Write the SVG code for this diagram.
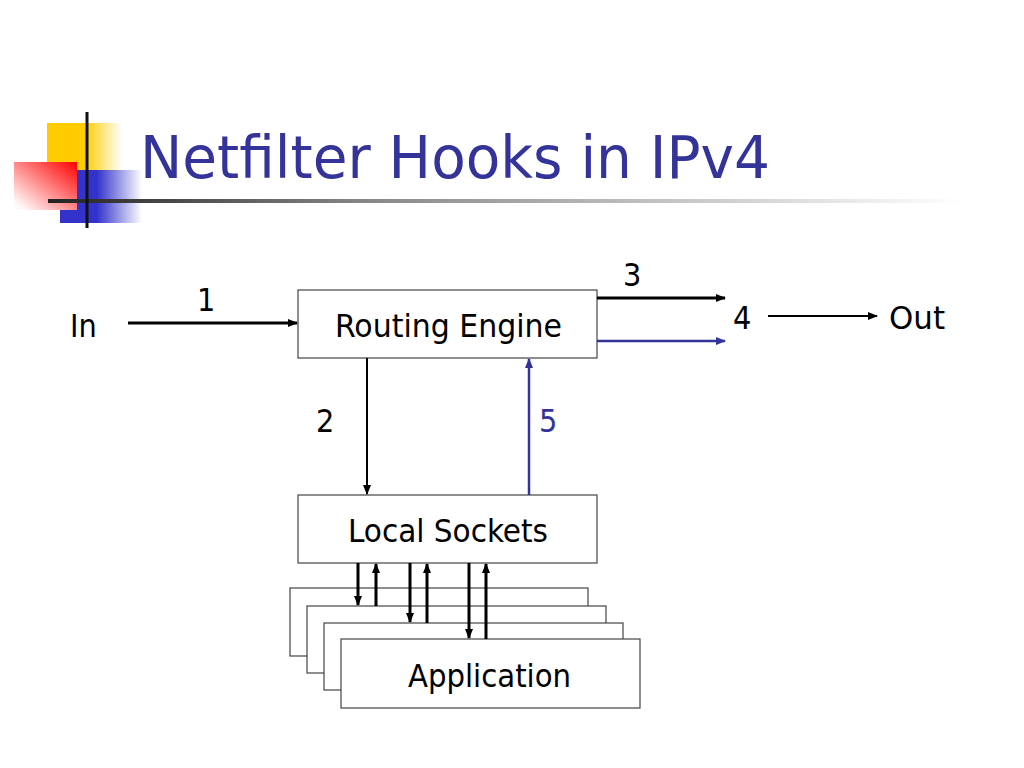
<svg xmlns="http://www.w3.org/2000/svg" width="1024" height="768" viewBox="0 0 1024 768">
  <style>
    .t { font-family: 'DejaVu Sans Condensed', 'DejaVu Sans', sans-serif; font-size: 32px; fill: #000; }
    .blue { fill: #333399; }
    .box { fill: #fff; stroke: #444; stroke-width: 1.2; }
    .k { stroke: #000; stroke-width: 2; fill: none; }
    .kb { stroke: #000; stroke-width: 3; fill: none; }
    .b { stroke: #333399; stroke-width: 2.5; fill: none; }
  </style>
  <defs>
    <linearGradient id="gY" x1="0" y1="0" x2="1" y2="0">
      <stop offset="0" stop-color="#FFCC00"/>
      <stop offset="0.5" stop-color="#FFCC00"/>
      <stop offset="1" stop-color="#FFCC00" stop-opacity="0"/>
    </linearGradient>
    <linearGradient id="gB" x1="0" y1="0" x2="1" y2="0">
      <stop offset="0" stop-color="#3333CC"/>
      <stop offset="0.45" stop-color="#3333CC"/>
      <stop offset="1" stop-color="#3333CC" stop-opacity="0"/>
    </linearGradient>
    <linearGradient id="gR" x1="1" y1="0" x2="0" y2="1">
      <stop offset="0" stop-color="#FF0000"/>
      <stop offset="0.9" stop-color="#FF0000" stop-opacity="0.04"/>
      <stop offset="1" stop-color="#FF0000" stop-opacity="0"/>
    </linearGradient>
    <linearGradient id="gBar" x1="0" y1="0" x2="1" y2="0">
      <stop offset="0" stop-color="#222"/>
      <stop offset="0.35" stop-color="#888"/>
      <stop offset="1" stop-color="#fff"/>
    </linearGradient>
    <marker id="ak" markerWidth="10" markerHeight="10" refX="9" refY="5" orient="auto" markerUnits="userSpaceOnUse">
      <path d="M0,1 L10,5 L0,9 Z" fill="#000"/>
    </marker>
    <marker id="ab" markerWidth="10" markerHeight="10" refX="9" refY="5" orient="auto" markerUnits="userSpaceOnUse">
      <path d="M0,1 L10,5 L0,9 Z" fill="#333399"/>
    </marker>
  </defs>

  <rect width="1024" height="768" fill="#fff"/>

  <g id="decoration">
    <rect x="47" y="123" width="75" height="48" fill="url(#gY)"/>
    <rect x="60" y="170" width="82" height="53" fill="url(#gB)"/>
    <rect x="14" y="162" width="63" height="48" fill="#fff"/>
    <rect x="14" y="162" width="63" height="48" fill="url(#gR)"/>
    <rect x="48" y="199" width="915" height="4" fill="url(#gBar)"/>
    <rect x="85.5" y="112" width="3" height="116" fill="#111"/>
  </g>

  <text id="title" x="140" y="178" font-family="'DejaVu Sans Condensed', 'DejaVu Sans', sans-serif" font-size="58" fill="#333399" textLength="630" lengthAdjust="spacingAndGlyphs">Netfilter Hooks in IPv4</text>

  <g id="in"><text class="t" x="70" y="337">In</text></g>
  <g id="out"><text class="t" x="889" y="329" textLength="56" lengthAdjust="spacingAndGlyphs">Out</text></g>

  <g id="routing-engine">
    <rect class="box" x="298" y="290" width="299" height="68"/>
    <text class="t" x="335" y="337" textLength="227" lengthAdjust="spacingAndGlyphs">Routing Engine</text>
  </g>

  <g id="local-sockets">
    <rect class="box" x="298" y="495" width="299" height="68"/>
    <text class="t" x="348" y="542" textLength="200" lengthAdjust="spacingAndGlyphs">Local Sockets</text>
  </g>

  <g id="application">
    <rect class="box" x="290" y="588" width="298" height="68"/>
    <rect class="box" x="307" y="606" width="299" height="67"/>
    <rect class="box" x="324" y="623" width="299" height="67"/>
    <rect class="box" x="341" y="639" width="299" height="69"/>
    <text class="t" x="408" y="687" textLength="163" lengthAdjust="spacingAndGlyphs">Application</text>
  </g>

  <g id="connectors">
    <line class="kb" x1="128" y1="323" x2="297" y2="323" marker-end="url(#ak)"/>
    <line class="k" x1="367" y1="358" x2="367" y2="494" marker-end="url(#ak)"/>
    <line class="b" x1="529" y1="495" x2="529" y2="359" marker-end="url(#ab)"/>
    <line class="kb" x1="597" y1="298" x2="725" y2="298" marker-end="url(#ak)"/>
    <line class="b" x1="597" y1="341" x2="725" y2="341" marker-end="url(#ab)"/>
    <line class="k" x1="768" y1="316" x2="877" y2="316" marker-end="url(#ak)"/>

    <line class="kb" x1="358" y1="563" x2="358" y2="605" marker-end="url(#ak)"/>
    <line class="kb" x1="376" y1="606" x2="376" y2="564" marker-end="url(#ak)"/>
    <line class="kb" x1="410" y1="563" x2="410" y2="622" marker-end="url(#ak)"/>
    <line class="kb" x1="427" y1="623" x2="427" y2="564" marker-end="url(#ak)"/>
    <line class="kb" x1="469" y1="563" x2="469" y2="638" marker-end="url(#ak)"/>
    <line class="kb" x1="486" y1="639" x2="486" y2="564" marker-end="url(#ak)"/>
  </g>

  <g id="labels">
    <text class="t" x="197" y="311">1</text>
    <text class="t" x="316" y="432">2</text>
    <text class="t" x="623" y="286">3</text>
    <text class="t" x="733" y="329">4</text>
    <text class="t blue" x="539" y="432">5</text>
  </g>
</svg>
